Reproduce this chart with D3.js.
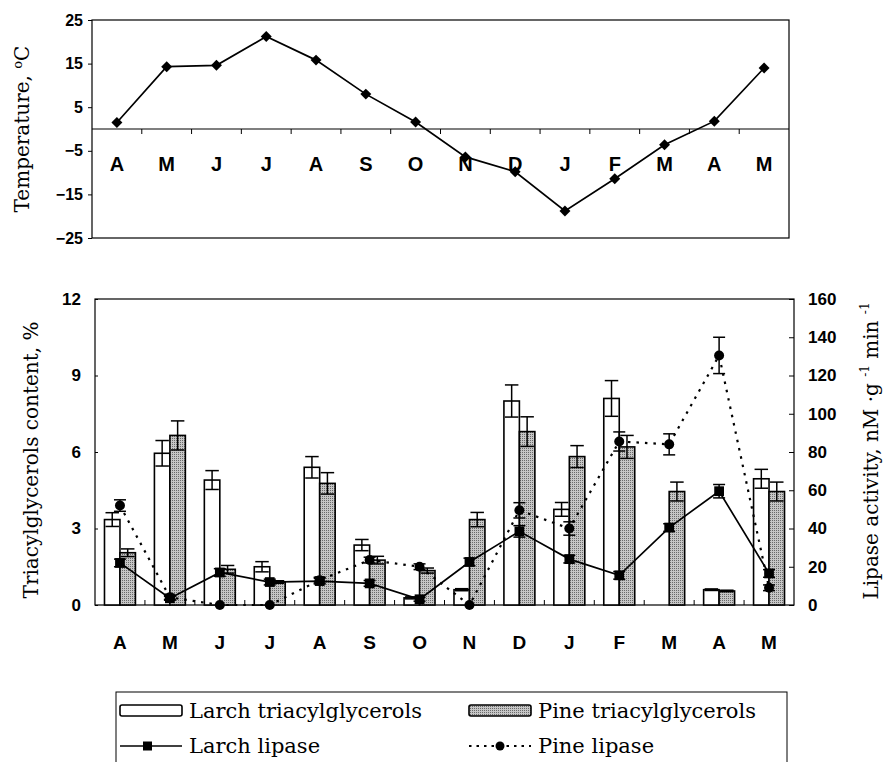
<!DOCTYPE html>
<html><head><meta charset="utf-8">
<script src="https://cdn.jsdelivr.net/npm/d3@7"></script>
<style>body{margin:0;background:#fff} svg{display:block}</style>
</head><body><svg id="c" width="884" height="762"></svg>
<script>
// ---------- data ----------
const months = ["A","M","J","J","A","S","O","N","D","J","F","M","A","M"];
const temperature = [1.5,14.3,14.6,21.2,15.8,8.0,1.6,-6.4,-9.8,-18.8,-11.4,-3.6,1.8,14.0];
const tempTicks = [-25,-15,-5,5,15,25];
const larchTAG    = [3.35,5.95,4.9,1.5,5.4,2.35,0.28,0.6,8.0,3.75,8.1,null,0.6,4.95];
const larchTAGErr = [0.27,0.5,0.37,0.2,0.42,0.22,0.04,0.04,0.63,0.27,0.7,null,0.03,0.37];
const pineTAG     = [2.05,6.65,1.4,0.9,4.77,1.76,1.35,3.35,6.8,5.82,6.2,4.45,0.55,4.45];
const pineTAGErr  = [0.15,0.57,0.15,0.05,0.42,0.15,0.1,0.28,0.58,0.43,0.45,0.37,0.03,0.37];
const larchLipase    = [22,3.5,17,12,12.5,11.3,3,22.5,38.5,24,15.5,40.5,59.5,16.5];
const larchLipaseErr = [2,1,2,1.5,1.5,1.5,1,2,3,2,2,2,3.5,2];
const pineLipase     = [52,4,0,0,13,23.5,20,0,49.5,40,85.5,84,130.5,9];
const pineLipaseErr  = [3,1,0,0,1.5,1.5,1.5,0,4,3.5,5,5.5,9.5,1.5];
const tagTicks = [0,3,6,9,12];
const lipaseTicks = [0,20,40,60,80,100,120,140,160];
const legendLabels = ["Larch triacylglycerols","Pine triacylglycerols","Larch lipase","Pine lipase"];

const svg = d3.select("#c");
const SANS = "'Liberation Sans', Arial, sans-serif";
const SERIF = "'DejaVu Serif', serif";
const idx = d3.range(months.length);

const defs = svg.append("defs");
const pat = defs.append("pattern").attr("id","stip").attr("width",2).attr("height",2).attr("patternUnits","userSpaceOnUse");
pat.append("rect").attr("width",2).attr("height",2).attr("fill","#c6c6c6");
pat.append("rect").attr("width",1).attr("height",1).attr("fill","#6a6a6a");

// ---------- top chart ----------
const T = {l:92, r:789, t:20, b:238};
const xT = d3.scaleBand().domain(idx).range([T.l, T.r]);
const yT = d3.scaleLinear().domain([-25,25]).range([T.b, T.t]);
const gT = svg.append("g");
gT.append("rect").attr("x",T.l).attr("y",T.t).attr("width",T.r-T.l).attr("height",T.b-T.t)
  .attr("fill","none").attr("stroke","#000").attr("stroke-width",1.2);
const axT = gT.append("g").attr("transform",`translate(${T.l},0)`)
  .call(d3.axisLeft(yT).tickValues(tempTicks).tickSize(4).tickPadding(5));
axT.select(".domain").remove();
axT.selectAll("text").attr("font-family",SANS).attr("font-size",16).attr("font-weight","bold").attr("fill","#000");
gT.append("line").attr("x1",T.l).attr("x2",T.r).attr("y1",yT(0)).attr("y2",yT(0)).attr("stroke","#000").attr("stroke-width",1.2);
gT.selectAll(".zt").data(idx.slice(1)).enter().append("line")
  .attr("x1",d=>xT(d)).attr("x2",d=>xT(d)).attr("y1",yT(0)).attr("y2",yT(0)+5).attr("stroke","#000");
gT.selectAll(".ml").data(idx).enter().append("text")
  .attr("x",d=>xT(d)+xT.bandwidth()/2).attr("y",171).attr("text-anchor","middle")
  .attr("font-family",SANS).attr("font-size",20).attr("font-weight","bold").text(d=>months[d]);
gT.append("path").datum(idx)
  .attr("d",d3.line().x(d=>xT(d)+xT.bandwidth()/2).y(d=>yT(temperature[d])))
  .attr("fill","none").attr("stroke","#000").attr("stroke-width",1.7);
gT.selectAll(".dm").data(idx).enter().append("path")
  .attr("d",d3.symbol(d3.symbolSquare,60)())
  .attr("transform",d=>`translate(${xT(d)+xT.bandwidth()/2},${yT(temperature[d])}) rotate(45)`)
  .attr("fill","#000");
gT.append("text").attr("transform",`translate(29,${(T.t+T.b)/2}) rotate(-90)`)
  .attr("text-anchor","middle").attr("font-family",SERIF).attr("font-size",20)
  .html('Temperature, <tspan dy="-7" font-size="13">o</tspan><tspan dy="7">C</tspan>');

// ---------- bottom chart ----------
const B = {l:95, r:794, t:299, b:605};
const xB = d3.scaleBand().domain(idx).range([B.l, B.r]);
const bw = xB.bandwidth();
const x1 = d3.scaleBand().domain(["larch","pine"]).range([bw*0.19, bw*0.81]);
const yL = d3.scaleLinear().domain([0,12]).range([B.b, B.t]);
const yR = d3.scaleLinear().domain([0,160]).range([B.b, B.t]);
const gB = svg.append("g");
const cx = d => xB(d)+bw/2;

gB.append("rect").attr("x",B.l).attr("y",B.t).attr("width",B.r-B.l).attr("height",B.b-B.t)
  .attr("fill","none").attr("stroke","#000").attr("stroke-width",1.2);
const axL = gB.append("g").attr("transform",`translate(${B.l},0)`)
  .call(d3.axisLeft(yL).tickValues(tagTicks).tickSize(-3).tickPadding(14));
axL.select(".domain").remove();
axL.selectAll("text").attr("font-family",SANS).attr("font-size",17).attr("font-weight","bold").attr("fill","#000");
const axR = gB.append("g").attr("transform",`translate(${B.r},0)`)
  .call(d3.axisRight(yR).tickValues(lipaseTicks).tickSize(-5).tickPadding(14));
axR.select(".domain").remove();
axR.selectAll("text").attr("font-family",SANS).attr("font-size",17).attr("font-weight","bold").attr("fill","#000");
gB.selectAll(".bt").data(idx.slice(1)).enter().append("line")
  .attr("x1",d=>xB(d)).attr("x2",d=>xB(d)).attr("y1",B.b).attr("y2",B.b-5).attr("stroke","#000");
gB.selectAll(".ml").data(idx).enter().append("text")
  .attr("x",cx).attr("y",649).attr("text-anchor","middle")
  .attr("font-family",SANS).attr("font-size",19).attr("font-weight","bold").text(d=>months[d]);

// bars
const series = [
  {key:"larch", vals:larchTAG, err:larchTAGErr, fill:"#fff"},
  {key:"pine",  vals:pineTAG,  err:pineTAGErr,  fill:"url(#stip)"}
];
series.forEach(s=>{
  const ok = idx.filter(i=>s.vals[i]!=null);
  gB.selectAll(".bar-"+s.key).data(ok).enter().append("rect")
    .attr("x",d=>xB(d)+x1(s.key)).attr("width",x1.bandwidth())
    .attr("y",d=>yL(s.vals[d])).attr("height",d=>yL(0)-yL(s.vals[d]))
    .attr("fill",s.fill).attr("stroke","#000").attr("stroke-width",1.6);
  const eg = gB.selectAll(".eb-"+s.key).data(ok).enter().append("g");
  const bx = d=>xB(d)+x1(s.key)+x1.bandwidth()/2;
  const hw = x1.bandwidth()/2-1;
  eg.append("line").attr("x1",bx).attr("x2",bx)
    .attr("y1",d=>yL(s.vals[d]-s.err[d])).attr("y2",d=>yL(s.vals[d]+s.err[d])).attr("stroke","#000").attr("stroke-width",1.5);
  eg.append("line").attr("x1",d=>bx(d)-hw).attr("x2",d=>bx(d)+hw)
    .attr("y1",d=>yL(s.vals[d]+s.err[d])).attr("y2",d=>yL(s.vals[d]+s.err[d])).attr("stroke","#000").attr("stroke-width",1.5);
  eg.append("line").attr("x1",d=>bx(d)-hw).attr("x2",d=>bx(d)+hw)
    .attr("y1",d=>yL(s.vals[d]-s.err[d])).attr("y2",d=>yL(s.vals[d]-s.err[d])).attr("stroke","#000").attr("stroke-width",1.5);
});

// lipase lines
gB.append("path").datum(idx).attr("d",d3.line().x(cx).y(d=>yR(larchLipase[d])))
  .attr("fill","none").attr("stroke","#000").attr("stroke-width",1.7);
gB.append("path").datum(idx).attr("d",d3.line().x(cx).y(d=>yR(pineLipase[d])))
  .attr("fill","none").attr("stroke","#000").attr("stroke-width",2.2).attr("stroke-dasharray","2.5,6");
function lipErr(vals, err){
  const g = gB.selectAll(null).data(idx.filter(i=>err[i]>0)).enter().append("g");
  g.append("line").attr("x1",cx).attr("x2",cx).attr("y1",d=>yR(vals[d]-err[d])).attr("y2",d=>yR(vals[d]+err[d])).attr("stroke","#000").attr("stroke-width",1.5);
  [1,-1].forEach(sg=>g.append("line").attr("x1",d=>cx(d)-6).attr("x2",d=>cx(d)+6)
    .attr("y1",d=>yR(vals[d]+sg*err[d])).attr("y2",d=>yR(vals[d]+sg*err[d])).attr("stroke","#000").attr("stroke-width",1.5));
}
lipErr(larchLipase, larchLipaseErr);
lipErr(pineLipase, pineLipaseErr);
gB.selectAll(".sq").data(idx).enter().append("path")
  .attr("d",d3.symbol(d3.symbolSquare,95)()).attr("transform",d=>`translate(${cx(d)},${yR(larchLipase[d])})`).attr("fill","#000");
gB.selectAll(".ci").data(idx).enter().append("circle")
  .attr("cx",cx).attr("cy",d=>yR(pineLipase[d])).attr("r",5).attr("fill","#000");

gB.append("text").attr("transform",`translate(38,${(B.t+B.b)/2 + 8}) rotate(-90)`)
  .attr("text-anchor","middle").attr("font-family",SERIF).attr("font-size",20)
  .text("Triacylglycerols content, %");
gB.append("text").attr("transform",`translate(878,451) rotate(-90)`)
  .attr("text-anchor","middle").attr("font-family",SERIF).attr("font-size",20)
  .html('Lipase activity, nM ·g <tspan dy="-9" font-size="12">-1</tspan><tspan dy="9"> min </tspan><tspan dy="-9" font-size="12">-1</tspan>');

// ---------- legend ----------
const gL = svg.append("g");
gL.append("rect").attr("x",116).attr("y",692).attr("width",787-116).attr("height",90)
  .attr("fill","none").attr("stroke","#000").attr("stroke-width",1);
const items = [
  {x:120, y:711, type:"rect", fill:"#fff", label:legendLabels[0]},
  {x:469, y:711, type:"rect", fill:"url(#stip)", label:legendLabels[1]},
  {x:120, y:746, type:"solid", label:legendLabels[2]},
  {x:469, y:746, type:"dot", label:legendLabels[3]}
];
items.forEach(it=>{
  if(it.type==="rect"){
    gL.append("rect").attr("x",it.x).attr("y",it.y-6).attr("width",62).attr("height",11).attr("rx",2)
      .attr("fill",it.fill).attr("stroke","#000").attr("stroke-width",1.6);
  } else if(it.type==="solid"){
    gL.append("line").attr("x1",it.x).attr("x2",it.x+62).attr("y1",it.y).attr("y2",it.y).attr("stroke","#000").attr("stroke-width",1.6);
    gL.append("rect").attr("x",it.x+23).attr("y",it.y-4.5).attr("width",9).attr("height",9).attr("fill","#000");
  } else {
    gL.append("line").attr("x1",it.x).attr("x2",it.x+62).attr("y1",it.y).attr("y2",it.y).attr("stroke","#000").attr("stroke-width",2).attr("stroke-dasharray","2.5,5");
    gL.append("circle").attr("cx",it.x+31).attr("cy",it.y).attr("r",4.5).attr("fill","#000");
  }
  gL.append("text").attr("x",it.x+69).attr("y",it.y+7).attr("font-family",SERIF).attr("font-size",21).text(it.label);
});
</script></body></html>
